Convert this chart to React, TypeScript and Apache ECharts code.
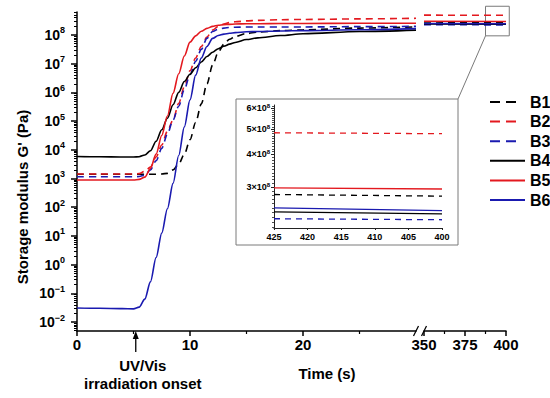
import React, { useEffect, useRef } from "react";
import * as echarts from "echarts";

const FONT = "'Liberation Sans', Arial, Helvetica, sans-serif";

// ---------- Data ----------
// Early window: time (s)
const time = [0, 2, 4, 5, 5.5, 6, 6.5, 7, 7.5, 8, 8.5, 9, 9.5, 10, 10.5, 11, 11.5, 12, 12.5, 13, 13.5, 14, 15, 16, 18, 20, 25, 30];
// log10 of G' (Pa)
const B1 = [3.15, 3.15, 3.15, 3.15, 3.15, 3.15, 3.15, 3.15, 3.16, 3.18, 3.3, 3.5, 3.85, 4.35, 4.95, 5.6, 6.3, 6.95, 7.4, 7.68, 7.85, 7.95, 8.05, 8.1, 8.15, 8.18, 8.24, 8.28];
const B2 = [3.16, 3.16, 3.16, 3.16, 3.17, 3.25, 3.4, 3.75, 4.17, 4.65, 5.04, 5.62, 6.2, 6.75, 7.2, 7.6, 7.93, 8.17, 8.3, 8.38, 8.43, 8.46, 8.49, 8.51, 8.53, 8.54, 8.56, 8.58];
const B3 = [3.06, 3.06, 3.06, 3.06, 3.07, 3.12, 3.3, 3.62, 4.05, 4.55, 5.04, 5.52, 6.1, 6.62, 7.08, 7.5, 7.88, 8.12, 8.2, 8.24, 8.26, 8.27, 8.28, 8.28, 8.28, 8.28, 8.29, 8.3];
const B4 = [3.77, 3.76, 3.75, 3.75, 3.76, 3.82, 3.97, 4.3, 4.7, 5.1, 5.57, 6.0, 6.38, 6.63, 6.86, 7.06, 7.25, 7.4, 7.52, 7.61, 7.68, 7.74, 7.84, 7.9, 7.98, 8.04, 8.12, 8.17];
const B5 = [2.95, 2.95, 2.95, 2.95, 2.97, 3.05, 3.35, 3.85, 4.5, 5.18, 5.97, 6.65, 7.27, 7.75, 7.97, 8.13, 8.23, 8.3, 8.34, 8.36, 8.37, 8.38, 8.39, 8.39, 8.4, 8.4, 8.41, 8.41];
const B6 = [-1.51, -1.52, -1.53, -1.54, -1.48, -1.2, -0.6, 0.25, 1.1, 1.95, 2.83, 3.8, 4.8, 5.74, 6.6, 7.2, 7.6, 7.88, 7.98, 8.03, 8.06, 8.08, 8.11, 8.12, 8.14, 8.15, 8.18, 8.22];

// Late window: time (s) and G' (Pa)
const timeLate = [350, 400];
const B1Late = [2.82e8, 2.78e8];
const B2Late = [4.9e8, 4.85e8];
const B3Late = [2.27e8, 2.25e8];
const B4Late = [2.42e8, 2.38e8];
const B5Late = [2.99e8, 2.95e8];
const B6Late = [2.52e8, 2.45e8];

// Inset: time (s) and G' (Pa)
const timeInset = [425, 400];
const B1Inset = [2.81e8, 2.77e8];
const B2Inset = [4.84e8, 4.8e8];
const B3Inset = [2.27e8, 2.25e8];
const B4Inset = [2.41e8, 2.37e8];
const B5Inset = [2.98e8, 2.95e8];
const B6Inset = [2.5e8, 2.44e8];

// Tick labels
const yDecades = [-2, -1, 0, 1, 2, 3, 4, 5, 6, 7, 8];
const xTicksEarly = [0, 10, 20];
const xMinorEarly = [5, 15, 25];
const xTicksLate = [350, 375, 400];
const xMinorLate = [362.5, 387.5];
const insetYTicks = [3e8, 4e8, 5e8, 6e8];
const onsetTime = 5.2;

const Y_MIN = -2.31;
const Y_MAX = 8.8;
const INSET_Y_MIN = 8.3206;
const INSET_Y_MAX = 8.791;

const RED = "#e3191f";
const BLUE = "#1a1ab0";
const BLACK = "#000000";

const defs = [
  { name: "B1", color: BLACK, dashed: true, early: B1, late: B1Late, inset: B1Inset },
  { name: "B2", color: RED, dashed: true, early: B2, late: B2Late, inset: B2Inset },
  { name: "B3", color: BLUE, dashed: true, early: B3, late: B3Late, inset: B3Inset },
  { name: "B4", color: BLACK, dashed: false, early: B4, late: B4Late, inset: B4Inset },
  { name: "B5", color: RED, dashed: false, early: B5, late: B5Late, inset: B5Inset },
  { name: "B6", color: BLUE, dashed: false, early: B6, late: B6Late, inset: B6Inset },
];

const minorY: number[] = [];
for (let d = -3; d <= 8; d++) {
  for (let k = 2; k <= 9; k++) {
    const v = d + Math.log10(k);
    if (v > Y_MIN && v < Y_MAX) minorY.push(v);
  }
}
const insetMinor: number[] = [];
for (let i = 21; i <= 61; i++) {
  if (i % 10 !== 0) {
    const v = Math.log10(i * 1e7);
    if (v > INSET_Y_MIN && v < INSET_Y_MAX) insetMinor.push(v);
  }
}

const supText = (n: number) => (n < 0 ? "\u2212" + Math.abs(n) : String(n));

export default function App() {
  const ref = useRef<HTMLDivElement>(null);
  useEffect(() => {
    if (!ref.current) return;
    const chart = echarts.init(ref.current, undefined, { renderer: "svg" });
    const axisLineStyle = { color: "#000", width: 1.5 };
    const labelStyle = { color: "#000", fontSize: 15, fontWeight: "bold", fontFamily: FONT };
    const insetLine = { color: "#222", width: 1 };
    const insetLabel = { color: "#000", fontSize: 9, fontWeight: "bold", fontFamily: FONT };

    const series: any[] = [];
    defs.forEach((d) => {
      const ls = { color: d.color, width: 1.6, type: d.dashed ? [7, 5] : "solid" };
      series.push({
        type: "line", name: d.name, xAxisIndex: 0, yAxisIndex: 0,
        data: time.map((t, i) => [t, d.early[i]]),
        smooth: 0.3, smoothMonotone: "x", symbol: "none", lineStyle: ls, itemStyle: { color: d.color },
      });
      series.push({
        type: "line", name: d.name, xAxisIndex: 2, yAxisIndex: 2,
        data: timeLate.map((t, i) => [t, Math.log10(d.late[i])]),
        symbol: "none", lineStyle: ls, itemStyle: { color: d.color },
      });
      series.push({
        type: "line", name: d.name, xAxisIndex: 4, yAxisIndex: 3,
        data: timeInset.map((t, i) => [t, Math.log10(d.inset[i])]),
        symbol: "none",
        lineStyle: { color: d.color, width: 1.3, type: d.dashed ? [6, 5] : "solid" },
        itemStyle: { color: d.color },
      });
    });

    chart.setOption({
      animation: false,
      textStyle: { fontFamily: FONT },
      legend: {
        orient: "vertical", left: 484, top: 88, itemWidth: 35, itemHeight: 14, itemGap: 1.6,
        itemStyle: { opacity: 0 },
        textStyle: { fontSize: 16, fontWeight: "bold", color: "#000", fontFamily: FONT, lineHeight: 18 },
        data: defs.map((d) => ({
          name: d.name,
          itemStyle: { opacity: 0 },
          lineStyle: { width: 2, type: d.dashed ? [10, 6, 10, 100] : "solid" },
        })),
      },
      grid: [
        { left: 77, top: 12, width: 339, height: 319 },
        { left: 424, top: 12, width: 82, height: 319 },
        { left: 274, top: 105, width: 168, height: 123 },
      ],
      xAxis: [
        {
          gridIndex: 0, type: "value", min: 0, max: 30, position: "bottom",
          axisLine: { onZero: false, lineStyle: axisLineStyle },
          axisTick: { customValues: xTicksEarly, length: 5, lineStyle: axisLineStyle },
          axisLabel: { customValues: xTicksEarly, margin: 6, ...labelStyle },
          splitLine: { show: false },
        },
        {
          gridIndex: 0, type: "value", min: 0, max: 30, position: "bottom",
          axisLine: { show: false, onZero: false },
          axisTick: { customValues: xMinorEarly, length: 3, lineStyle: { color: "#000", width: 1.2 } },
          axisLabel: { show: false },
          splitLine: { show: false },
        },
        {
          gridIndex: 1, type: "value", min: 350, max: 400, position: "bottom",
          axisLine: { onZero: false, lineStyle: axisLineStyle },
          axisTick: { customValues: xTicksLate, length: 5, lineStyle: axisLineStyle },
          axisLabel: { customValues: xTicksLate, margin: 6, ...labelStyle },
          splitLine: { show: false },
        },
        {
          gridIndex: 1, type: "value", min: 350, max: 400, position: "bottom",
          axisLine: { show: false, onZero: false },
          axisTick: { customValues: xMinorLate, length: 3, lineStyle: { color: "#000", width: 1.2 } },
          axisLabel: { show: false },
          splitLine: { show: false },
        },
        {
          gridIndex: 2, type: "value", min: 400, max: 425, interval: 5, inverse: true, position: "bottom",
          axisLine: { onZero: false, lineStyle: insetLine },
          axisTick: { length: 2, lineStyle: insetLine },
          axisLabel: { margin: 4, ...insetLabel },
          splitLine: { show: false },
        },
      ],
      yAxis: [
        {
          gridIndex: 0, type: "value", min: Y_MIN, max: Y_MAX, position: "left",
          axisLine: { onZero: false, lineStyle: axisLineStyle },
          axisTick: { customValues: yDecades, length: 6, lineStyle: axisLineStyle },
          axisLabel: {
            customValues: yDecades, margin: 12, color: "#000",
            formatter: (v: number) => `{b|10}{s|${supText(Math.round(v))}}`,
            rich: {
              b: { fontSize: 14, fontWeight: "bold", fontFamily: FONT, color: "#000", lineHeight: 18 },
              s: { fontSize: 9, fontWeight: "bold", fontFamily: FONT, color: "#000", lineHeight: 10, verticalAlign: "top" },
            },
          },
          splitLine: { show: false },
        },
        {
          gridIndex: 0, type: "value", min: Y_MIN, max: Y_MAX, position: "left",
          axisLine: { show: false, onZero: false },
          axisTick: { customValues: minorY, length: 3, lineStyle: { color: "#000", width: 1 } },
          axisLabel: { show: false },
          splitLine: { show: false },
        },
        {
          gridIndex: 1, type: "value", min: Y_MIN, max: Y_MAX, show: false,
          splitLine: { show: false },
        },
        {
          gridIndex: 2, type: "value", min: INSET_Y_MIN, max: INSET_Y_MAX, position: "left",
          axisLine: { onZero: false, lineStyle: insetLine },
          axisTick: { customValues: insetYTicks.map((v) => Math.log10(v)), length: 3, lineStyle: insetLine },
          axisLabel: {
            customValues: insetYTicks.map((v) => Math.log10(v)), margin: 4, color: "#000",
            formatter: (v: number) => `{b|${Math.round(Math.pow(10, v) / 1e8)}×10}{s|8}`,
            rich: {
              b: { fontSize: 9, fontWeight: "bold", fontFamily: FONT, color: "#000", lineHeight: 11 },
              s: { fontSize: 6, fontWeight: "bold", fontFamily: FONT, color: "#000", lineHeight: 7, verticalAlign: "top" },
            },
          },
          splitLine: { show: false },
        },
        {
          gridIndex: 2, type: "value", min: INSET_Y_MIN, max: INSET_Y_MAX, position: "left",
          axisLine: { show: false, onZero: false },
          axisTick: { customValues: insetMinor, length: 2, lineStyle: { color: "#222", width: 0.8 } },
          axisLabel: { show: false },
          splitLine: { show: false },
        },
      ],
      series,
    });

    // Annotations placed through the axes
    const px = (axis: number, v: number) => chart.convertToPixel({ xAxisIndex: axis }, v) as number;
    const py = (axis: number, v: number) => chart.convertToPixel({ yAxisIndex: axis }, v) as number;
    const arrowX = px(0, onsetTime);
    const axisY = py(0, Y_MIN);
    const g1Right = px(0, 30);
    const g2Left = px(2, 350);
    const zx1 = px(2, 387.5);
    const zx2 = px(2, 402);
    const zy1 = py(2, 9.0);
    const zy2 = py(2, 7.97);
    const txt = (text: string, x: number, y: number, size = 15, extra: any = {}) => ({
      type: "text", x, y, ...extra,
      style: { text, fontSize: size, fontWeight: "bold", fontFamily: FONT, fill: "#000", align: "center", verticalAlign: "middle" },
    });
    const gray = { stroke: "#7a7a7a", lineWidth: 1, fill: "none" };

    chart.setOption({
      graphic: [
        txt("Storage modulus G' (Pa)", 22, 197, 15, { rotation: Math.PI / 2 }),
        txt("Time (s)", 327, 373),
        txt("UV/Vis", arrowX + 7, 365),
        txt("irradiation onset", arrowX + 7, 383),
        { type: "line", shape: { x1: arrowX, y1: axisY + 21, x2: arrowX, y2: axisY + 5 }, style: { stroke: "#000", lineWidth: 1.3 } },
        { type: "polygon", shape: { points: [[arrowX, axisY], [arrowX - 3, axisY + 8], [arrowX + 3, axisY + 8]] }, style: { fill: "#000" } },
        { type: "line", shape: { x1: g1Right - 2.5, y1: axisY + 5, x2: g1Right + 2.5, y2: axisY - 5 }, style: { stroke: "#000", lineWidth: 1.3 } },
        { type: "line", shape: { x1: g2Left - 2.5, y1: axisY + 5, x2: g2Left + 2.5, y2: axisY - 5 }, style: { stroke: "#000", lineWidth: 1.3 } },
        { type: "rect", shape: { x: zx1, y: zy1, width: zx2 - zx1, height: zy2 - zy1 }, style: gray },
        { type: "rect", shape: { x: 236, y: 99, width: 222, height: 146 }, style: gray },
        { type: "line", shape: { x1: zx1, y1: zy2, x2: 458, y2: 99 }, style: { stroke: "#7a7a7a", lineWidth: 1 } },
      ],
    });

    return () => chart.dispose();
  }, []);
  return <div ref={ref} style={{ position: "absolute", left: 0, top: 0, width: 550, height: 398 }} />;
}
